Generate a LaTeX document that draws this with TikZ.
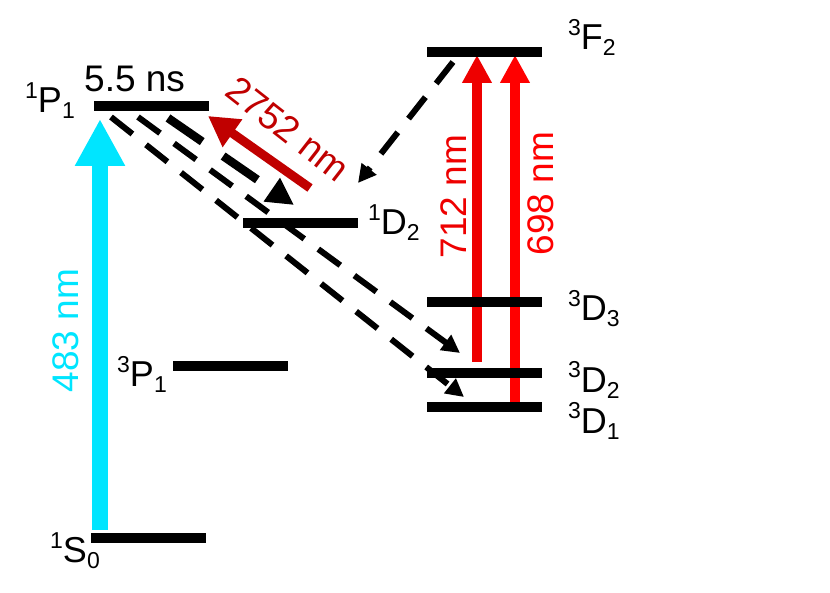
\documentclass[tikz,border=0pt]{standalone}
\usepackage{fontspec}
\setmainfont{Liberation Sans}
\usetikzlibrary{arrows.meta}

\definecolor{cyan_pump}{RGB}{0,229,255}
\definecolor{red_dark}{RGB}{192,0,0}
\definecolor{red_712}{RGB}{238,0,0}

\newcommand{\termtxt}[3]{\raisebox{14pt}{\fontsize{23}{23}\selectfont #1}#2\raisebox{-6pt}{\fontsize{23}{23}\selectfont #3}}

\tikzset{
  lvl/.style = {fill=black, inner sep=0pt, minimum width=115pt, minimum height=10pt},
  lbl/.style = {inner sep=0pt, anchor=base west, font=\fontsize{36}{36}\selectfont},
  wave/.style = {inner sep=0pt, anchor=base, font=\fontsize{37}{37}\selectfont},
  decay/.style = {line width=6pt, dash pattern=on 27.3pt off 17.4pt, -{Triangle[length=18pt,width=18pt]}},
  redline/.style = {line width=10pt, -{Triangle[length=28pt,width=28pt]}}
}

\begin{document}
\begin{tikzpicture}[x=1pt,y=-1pt]

\useasboundingbox (0,0) rectangle (830,593) ;

% pump and probe lines
\coordinate (pump_start) at (100,530) ;
\coordinate (pump_end) at (100,119) ;
\coordinate (red_a_start) at (477,362) ;
\coordinate (red_a_end) at (477,55) ;
\coordinate (red_b_start) at (515,402) ;
\coordinate (red_b_end) at (515,55) ;
\coordinate (ir_start) at (310,188) ;
\coordinate (ir_end) at (208,116) ;

\draw[cyan_pump,line width=16pt,-{Triangle[length=47pt,width=47pt]}] (pump_start) -- (pump_end) ;
\draw[red_712,redline] (red_a_start) -- (red_a_end) ;
\draw[red,redline] (red_b_start) -- (red_b_end) ;
\draw[red_dark,line width=9pt,-{Triangle[length=30pt,width=32pt]}] (ir_start) -- (ir_end) ;

% levels
\node[lvl] (lvl_1S0) at (148,537.5) {} ;
\node[lvl] (lvl_1P1) at (151,106.5) {} ;
\node[lvl] (lvl_3P1) at (230.5,366.5) {} ;
\node[lvl] (lvl_1D2) at (300.5,223.5) {} ;
\node[lvl] (lvl_3F2) at (484,52) {} ;
\node[lvl] (lvl_3D3) at (484,302.5) {} ;
\node[lvl] (lvl_3D2) at (484,373) {} ;
\node[lvl] (lvl_3D1) at (484,407.5) {} ;

% decay paths
\coordinate (dec_a_start) at (168,118) ;
\coordinate (dec_a_end) at (294,205) ;
\coordinate (dec_b_start) at (138,117) ;
\coordinate (dec_b_end) at (460,353) ;
\coordinate (dec_c_start) at (111,117) ;
\coordinate (dec_c_end) at (464,397) ;
\coordinate (dec_d_start) at (453,62) ;
\coordinate (dec_d_end) at (358,183) ;

\draw[line width=8.5pt,dash pattern=on 41.6pt off 25.4pt,-{Triangle[length=27pt,width=27pt]}] (dec_a_start) -- (dec_a_end) ;
\draw[decay] (dec_b_start) -- (dec_b_end) ;
\draw[decay] (dec_c_start) -- (dec_c_end) ;
\draw[decay] (dec_d_start) -- (dec_d_end) ;

% labels
\node[lbl] (txt_1S0) at (50,562) {\termtxt{1}{S}{0}} ;
\node[lbl] (txt_1P1) at (25,113) {\termtxt{1}{P}{1}} ;
\node[lbl] (txt_3P1) at (117,387) {\termtxt{3}{P}{1}} ;
\node[lbl] (txt_1D2) at (368,235) {\termtxt{1}{D}{2}} ;
\node[lbl] (txt_3F2) at (568,50) {\termtxt{3}{F}{2}} ;
\node[lbl] (txt_3D3) at (568,321) {\termtxt{3}{D}{3}} ;
\node[lbl] (txt_3D2) at (568,392) {\termtxt{3}{D}{2}} ;
\node[lbl] (txt_3D1) at (568,433) {\termtxt{3}{D}{1}} ;

\node[wave,anchor=base west] (txt_life) at (84,92) {5.5 ns} ;
\node[wave,cyan_pump,rotate=90] (txt_483) at (78,330.5) {483 nm} ;
\node[wave,red_712,rotate=90] (txt_712) at (466,196.5) {712 nm} ;
\node[wave,red,rotate=90] (txt_698) at (553,193.5) {698 nm} ;
\node[wave,red_dark,rotate=-38] (txt_2752) at (280,139) {2752 nm} ;

\end{tikzpicture}
\end{document}
